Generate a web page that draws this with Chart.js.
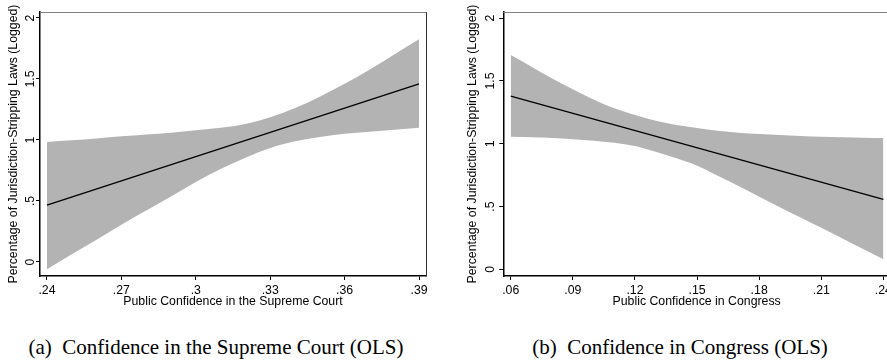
<!DOCTYPE html>
<html><head><meta charset="utf-8">
<script src="https://cdn.jsdelivr.net/npm/chart.js@4/dist/chart.umd.min.js"></script>
<style>
html,body{margin:0;padding:0;background:#fff;width:887px;height:360px;overflow:hidden;position:relative}
canvas{position:absolute;top:0}
.cap{position:absolute;top:336px;font-family:"Liberation Serif","Times New Roman",serif;font-size:21px;line-height:22px;color:#000;white-space:pre;transform:translateX(-50%)}
</style></head><body>
<canvas id="c1" width="440" height="312" style="left:0"></canvas>
<canvas id="c2" width="460" height="312" style="left:440px"></canvas>
<div class="cap" style="left:216px">(a)  Confidence in the Supreme Court (OLS)</div>
<div class="cap" style="left:680px">(b)  Confidence in Congress (OLS)</div>
<script>
// ---- Panel (a): Supreme Court ----
const courtX     = [0.24, 0.25, 0.26, 0.27, 0.28, 0.29, 0.30, 0.31, 0.32, 0.33, 0.34, 0.35, 0.36, 0.37, 0.38, 0.39];
const courtUpper = [0.984, 0.997, 1.013, 1.030, 1.045, 1.060, 1.080, 1.100, 1.131, 1.186, 1.262, 1.355, 1.460, 1.575, 1.700, 1.825];
const courtLower = [-0.060, 0.063, 0.183, 0.305, 0.422, 0.537, 0.655, 0.762, 0.855, 0.935, 0.990, 1.025, 1.050, 1.067, 1.083, 1.100];
const courtFitX  = [0.24, 0.39];
const courtFitY  = [0.465, 1.459];
const courtXTicks = [0.24, 0.27, 0.30, 0.33, 0.36, 0.39];

// ---- Panel (b): Congress ----
const congX     = [0.06, 0.07, 0.08, 0.09, 0.10, 0.11, 0.12, 0.13, 0.14, 0.15, 0.16, 0.17, 0.18, 0.19, 0.20, 0.21, 0.22, 0.23, 0.24];
const congUpper = [1.706, 1.613, 1.520, 1.433, 1.353, 1.282, 1.229, 1.183, 1.149, 1.125, 1.104, 1.088, 1.077, 1.070, 1.062, 1.056, 1.052, 1.048, 1.045];
const congLower = [1.056, 1.051, 1.045, 1.035, 1.024, 1.008, 0.982, 0.936, 0.884, 0.825, 0.745, 0.663, 0.578, 0.495, 0.413, 0.331, 0.247, 0.163, 0.080];
const congFitX  = [0.06, 0.24];
const congFitY  = [1.380, 0.557];
const congXTicks = [0.06, 0.09, 0.12, 0.15, 0.18, 0.21, 0.24];

const yTicks = [0, 0.5, 1, 1.5, 2];
const yTitle = 'Percentage of Jurisdiction-Stripping Laws (Logged)';

function fmt(v) {
  let s = (Math.round(v * 100) / 100).toString();
  return s.replace(/^0\./, '.').replace(/^-0\./, '-.');
}
const FONT = {family: '"Liberation Sans", Arial, sans-serif', size: 12.3};

const framePlugin = {
  id: 'frame',
  afterDatasetsDraw(chart, args, opts) {
    const {ctx, chartArea: a} = chart;
    ctx.save();
    ctx.lineWidth = 1;
    ctx.strokeStyle = '#808080';
    ctx.beginPath();
    ctx.moveTo(a.left, Math.floor(a.top) + 0.5);
    ctx.lineTo(a.right, Math.floor(a.top) + 0.5);
    ctx.stroke();
    if (opts.right) {
      ctx.strokeStyle = '#303030';
      ctx.beginPath();
      ctx.moveTo(Math.floor(a.right) + 0.5, a.top);
      ctx.lineTo(Math.floor(a.right) + 0.5, a.bottom);
      ctx.stroke();
    }
    ctx.restore();
  },
  afterDraw(chart, args, opts) {
    // rotated y-axis tick labels (Stata style), placed via the y scale
    const {ctx, chartArea: a} = chart;
    const y = chart.scales.y;
    ctx.save();
    ctx.fillStyle = '#000';
    ctx.font = FONT.size + 'px ' + FONT.family;
    ctx.textAlign = 'center';
    ctx.textBaseline = 'middle';
    y.ticks.forEach(t => {
      const py = y.getPixelForValue(t.value);
      ctx.save();
      ctx.translate(a.left - opts.labelOffset, py);
      ctx.rotate(-Math.PI / 2);
      ctx.fillText(fmt(t.value), 0, 0);
      ctx.restore();
    });
    ctx.restore();
  }
};

function build(id, c) {
  const pts = (xs, ys) => xs.map((x, i) => ({x: x, y: ys[i]}));
  return new Chart(document.getElementById(id), {
    type: 'line',
    data: {datasets: [
      {data: pts(c.fitX, c.fitY), borderColor: '#000', borderWidth: 1.3, pointRadius: 0, fill: false, tension: 0},
      {data: pts(c.x, c.upper), borderWidth: 0, borderColor: 'rgba(0,0,0,0)', backgroundColor: '#b3b3b3', pointRadius: 0, fill: '+1', cubicInterpolationMode: 'monotone'},
      {data: pts(c.x, c.lower), borderWidth: 0, borderColor: 'rgba(0,0,0,0)', pointRadius: 0, fill: false, cubicInterpolationMode: 'monotone'}
    ]},
    options: {
      responsive: false, animation: false, devicePixelRatio: 1,
      layout: {padding: c.pad},
      plugins: {legend: {display: false}, tooltip: {enabled: false}, frame: {right: c.rightBorder, labelOffset: c.labelOffset}},
      scales: {
        x: {
          type: 'linear', min: c.xmin, max: c.xmax,
          afterBuildTicks: s => { s.ticks = c.xTicks.map(v => ({value: v})); },
          afterFit: s => { s.height = 36; },
          grid: {drawOnChartArea: false, drawTicks: true, tickLength: 4, color: '#000', lineWidth: 1},
          border: {display: true, color: '#000', width: 1.5},
          ticks: {color: '#000', font: FONT, padding: 3, maxRotation: 0, autoSkip: false, callback: v => fmt(v)},
          title: {display: true, text: c.xTitle, color: '#000', font: FONT, padding: {top: 0, bottom: 3}}
        },
        y: {
          type: 'linear', min: c.ymin, max: c.ymax,
          afterBuildTicks: s => { s.ticks = yTicks.map(v => ({value: v})); },
          afterFit: s => { s.width = c.yw; },
          grid: {drawOnChartArea: false, drawTicks: true, tickLength: 4, color: '#000', lineWidth: 1},
          border: {display: true, color: '#000', width: 1.5},
          ticks: {display: false},
          title: {display: true, text: yTitle, color: '#000', font: FONT, padding: {top: 5.8, bottom: 0}}
        }
      }
    },
    plugins: [framePlugin]
  });
}

build('c1', {
  x: courtX, upper: courtUpper, lower: courtLower, fitX: courtFitX, fitY: courtFitY,
  xTicks: courtXTicks, xmin: 0.2372, xmax: 0.3928, ymin: -0.115, ymax: 2.049,
  pad: {left: 0, top: 12, right: 14, bottom: 0}, yw: 40, rightBorder: true, labelOffset: 9.5,
  xTitle: 'Public Confidence in the Supreme Court'
});
build('c2', {
  x: congX, upper: congUpper, lower: congLower, fitX: congFitX, fitY: congFitY,
  xTicks: congXTicks, xmin: 0.0564, xmax: 0.2432, ymin: -0.053, ymax: 2.049,
  pad: {left: 19.8, top: 12, right: 10, bottom: 0}, yw: 43.5, rightBorder: false, labelOffset: 12.3,
  xTitle: 'Public Confidence in Congress'
});
</script>
</body></html>
